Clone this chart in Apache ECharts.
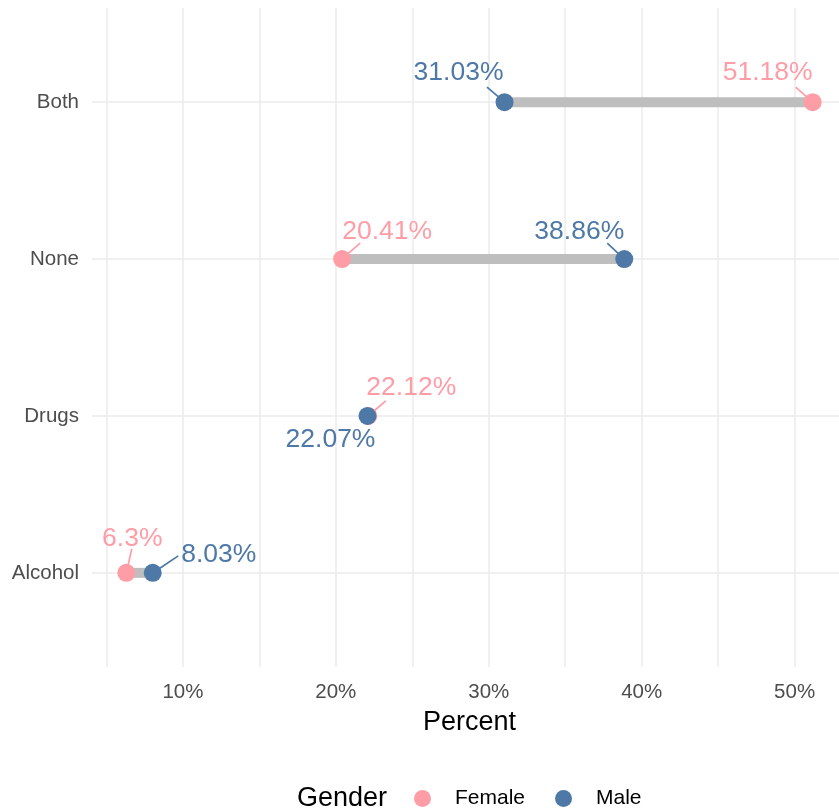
<!DOCTYPE html>
<html><head><meta charset="utf-8">
<script src="https://cdn.jsdelivr.net/npm/echarts@6/dist/echarts.min.js"></script>
<style>html,body{margin:0;padding:0;background:#fff;overflow:hidden}#c{width:847px;height:812px}</style>
</head><body><div id="c"></div>
<script>
const categories = ['Alcohol', 'Drugs', 'None', 'Both'];
const female = [6.3, 22.12, 20.41, 51.18];
const male = [8.03, 22.07, 38.86, 31.03];
const xTicks = [5, 10, 15, 20, 25, 30, 35, 40, 45, 50];
const xLabels = [10, 20, 30, 40, 50];
const catValues = [1, 2, 3, 4];
// repelled label layout (px): label centre offset from its point, per category
const femaleLabelOffset = [[6, -35.5], [43, -29], [45, -28.5], [-45, -30]];
const maleLabelOffset = [[66, -19], [-37, 23], [-45, -28.5], [-46, -30]];
// leader segment start, relative to the label centre (null = no segment)
const femaleSegStart = [[-0.5, 11.5], [-25.5, 14], [-27, 12.5], [28, 15]];
const maleSegStart = [[-40.5, 2], null, [28, 12.5], [28.5, 15]];

const FEMALE = '#FF9DA7', MALE = '#4E79A7';
const FONT = '"Liberation Sans", Arial, sans-serif';
const all = female.concat(male);
const lo = Math.min(...all), hi = Math.max(...all), pad = (hi - lo) * 0.05;

const chart = echarts.init(document.getElementById('c'));
function pointSeries(name, vals, color, offs) {
  return {
    name, type: 'scatter', symbol: 'circle', symbolSize: 18,
    itemStyle: {color, opacity: 1},
    data: vals.map((v, i) => [v, i + 1]),
    z: 3,
    label: {
      show: true, position: 'inside', color, fontSize: 26.5, fontFamily: FONT,
      align: 'center', verticalAlign: 'middle',
      formatter: p => p.value[0] + '%'
    },
    labelLayout: p => ({dx: offs[p.dataIndex][0], dy: offs[p.dataIndex][1] + 1}),
    emphasis: {disabled: true}
  };
}
function leaderSeries(vals, color, offs, segs) {
  return {
    type: 'custom', silent: true, z: 4,
    encode: {x: 0, y: 1},
    data: vals.map((v, i) => [v, i + 1]),
    renderItem(params, api) {
      const i = params.dataIndex;
      const s = segs[i];
      if (!s) return null;
      const p = api.coord([api.value(0), api.value(1)]);
      const sx = p[0] + offs[i][0] + s[0], sy = p[1] + offs[i][1] + s[1];
      const vx = sx - p[0], vy = sy - p[1], len = Math.hypot(vx, vy);
      const ex = p[0] + vx / len * 8, ey = p[1] + vy / len * 8;
      return {type: 'line', shape: {x1: sx, y1: sy, x2: ex, y2: ey},
        style: {stroke: color, lineWidth: 1.7}};
    }
  };
}
chart.setOption({
  animation: false,
  backgroundColor: '#fff',
  textStyle: {fontFamily: FONT},
  grid: {left: 92, right: 0, top: 8, bottom: 145, containLabel: false},
  xAxis: {
    type: 'value', min: lo - pad, max: hi + pad,
    name: 'Percent', nameLocation: 'middle', nameGap: 42,
    nameTextStyle: {fontSize: 27, color: '#000', fontFamily: FONT},
    axisLine: {show: false}, axisTick: {show: false, customValues: xTicks},
    axisLabel: {customValues: xLabels, formatter: v => v + '%', fontSize: 20.5, color: '#4D4D4D', margin: 15, fontFamily: FONT},
    splitLine: {show: true, lineStyle: {color: '#EBEBEB', width: 1.5}}
  },
  yAxis: {
    type: 'value', min: 0.4, max: 4.6,
    axisLine: {show: false}, axisTick: {show: false, customValues: catValues},
    axisLabel: {customValues: catValues, formatter: v => categories[Math.round(v) - 1], fontSize: 20.5, color: '#4D4D4D', margin: 13, fontFamily: FONT},
    splitLine: {show: true, lineStyle: {color: '#EBEBEB', width: 1.5}}
  },
  legend: {
    data: ['Female', 'Male'], left: 414, top: 788, padding: 0,
    icon: 'circle', itemWidth: 17, itemHeight: 17, itemGap: 30,
    textStyle: {fontSize: 21, color: '#000', fontFamily: FONT, padding: [0, 0, 0, 19]}
  },
  graphic: [{
    type: 'text', left: 297, top: 785,
    style: {text: 'Gender', fontSize: 27, fill: '#000', fontFamily: FONT}
  }],
  series: [
    {
      type: 'custom', silent: true, z: 1,
      encode: {x: [0, 1], y: 2},
      data: categories.map((c, i) => [female[i], male[i], i + 1]),
      renderItem(params, api) {
        const a = api.coord([api.value(0), api.value(2)]);
        const b = api.coord([api.value(1), api.value(2)]);
        return {type: 'line', shape: {x1: a[0], y1: a[1], x2: b[0], y2: b[1]},
          style: {stroke: '#BEBEBE', lineWidth: 10}};
      }
    },
    pointSeries('Female', female, FEMALE, femaleLabelOffset),
    pointSeries('Male', male, MALE, maleLabelOffset),
    leaderSeries(female, FEMALE, femaleLabelOffset, femaleSegStart),
    leaderSeries(male, MALE, maleLabelOffset, maleSegStart)
  ]
});
</script>
</body></html>
